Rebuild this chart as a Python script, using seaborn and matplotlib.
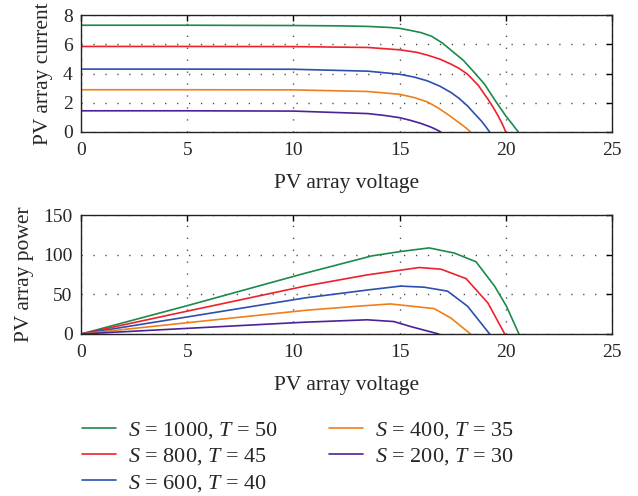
import numpy as np
import pandas as pd
import matplotlib
matplotlib.use("Agg")
import matplotlib.pyplot as plt
import seaborn as sns

labels = ["$S$ = 1000, $T$ = 50", "$S$ = 800, $T$ = 45", "$S$ = 600, $T$ = 40",
          "$S$ = 400, $T$ = 35", "$S$ = 200, $T$ = 30"]
colors = ["#1b8a4b", "#f0202a", "#2d4fae", "#ef7f1a", "#4b2297"]

# I-V curves (voltage, current)
iv_v_1000 = [0, 5, 10, 12, 13.5, 14.5, 15.0, 15.5, 16.0, 16.5, 17.0, 17.5, 18.0, 18.5, 19.0, 19.5, 20.0, 20.3, 20.59]
iv_i_1000 = [7.3, 7.3, 7.28, 7.26, 7.22, 7.15, 7.09, 6.95, 6.8, 6.55, 6.1, 5.5, 4.9, 4.1, 3.27, 2.15, 1.1, 0.55, 0.0]
iv_v_800 = [0, 5, 10, 13.5, 15.0, 15.8, 16.3, 16.9, 17.42, 17.8, 18.2, 18.7, 19.16, 19.4, 19.64, 19.85, 20.0]
iv_i_800 = [5.85, 5.85, 5.84, 5.78, 5.62, 5.45, 5.26, 4.98, 4.64, 4.35, 3.95, 3.2, 2.24, 1.7, 1.1, 0.5, 0.0]
iv_v_600 = [0, 5, 10, 13.5, 15.0, 15.7, 16.3, 16.9, 17.42, 17.8, 18.2, 18.5, 18.85, 19.05, 19.24]
iv_i_600 = [4.3, 4.3, 4.29, 4.16, 3.95, 3.75, 3.5, 3.13, 2.7, 2.3, 1.78, 1.3, 0.75, 0.38, 0.0]
iv_v_400 = [0, 5, 10, 13.5, 15.0, 15.7, 16.3, 16.8, 17.26, 17.6, 17.9, 18.15, 18.34]
iv_i_400 = [2.89, 2.89, 2.88, 2.77, 2.58, 2.35, 2.06, 1.66, 1.21, 0.85, 0.53, 0.25, 0.0]
iv_v_200 = [0, 5, 10, 13.5, 14.3, 15.0, 15.5, 16.0, 16.5, 16.75, 16.94]
iv_i_200 = [1.45, 1.45, 1.43, 1.26, 1.13, 0.98, 0.8, 0.59, 0.32, 0.15, 0.0]

# P-V curves (voltage, power)
pv_v_1000 = [0, 5, 10.55, 13.7, 15.05, 16.39, 17.58, 18.6, 19.48, 20.03, 20.62]
pv_p_1000 = [0, 35.7, 76.6, 98.5, 104.0, 108.5, 102.0, 91.0, 60.0, 35.0, 0.0]
pv_v_800 = [0, 5, 10.55, 13.47, 15.92, 16.95, 18.13, 19.16, 19.95]
pv_p_800 = [0, 28.8, 60.4, 74.5, 83.8, 81.7, 69.8, 39.0, 0.0]
pv_v_600 = [0, 5, 10.55, 13.5, 15.05, 16.16, 17.26, 18.2, 19.24]
pv_p_600 = [0, 21.5, 45.5, 55.5, 60.4, 59.0, 54.0, 35.0, 0.0]
pv_v_400 = [0, 5, 10.55, 13.0, 14.57, 16.63, 17.42, 18.34]
pv_p_400 = [0, 14.2, 29.8, 35.0, 37.9, 32.0, 20.0, 0.0]
pv_v_200 = [0, 5, 10.55, 13.47, 14.73, 15.52, 16.84]
pv_p_200 = [0, 7.1, 14.9, 17.9, 15.7, 9.4, 0.0]

x_ticks = [0, 5, 10, 15, 20, 25]
i_ticks = [0, 2, 4, 6, 8]
p_ticks = [0, 50, 100, 150]

iv = [(iv_v_1000, iv_i_1000), (iv_v_800, iv_i_800), (iv_v_600, iv_i_600),
      (iv_v_400, iv_i_400), (iv_v_200, iv_i_200)]
pv = [(pv_v_1000, pv_p_1000), (pv_v_800, pv_p_800), (pv_v_600, pv_p_600),
      (pv_v_400, pv_p_400), (pv_v_200, pv_p_200)]

df_iv = pd.concat([pd.DataFrame({"V": v, "Y": y, "case": lab})
                   for (v, y), lab in zip(iv, labels)], ignore_index=True)
df_pv = pd.concat([pd.DataFrame({"V": v, "Y": y, "case": lab})
                   for (v, y), lab in zip(pv, labels)], ignore_index=True)

sns.set_style("white")
plt.rcParams["font.family"] = ["Liberation Serif", "DejaVu Serif"]
plt.rcParams["mathtext.fontset"] = "custom"
plt.rcParams["mathtext.rm"] = "Liberation Serif"
plt.rcParams["mathtext.it"] = "Liberation Serif:italic"

fig = plt.figure(figsize=(6.38, 4.96), dpi=100)
W, H = 638, 496
ax1 = fig.add_axes([81 / W, (H - 132) / H, 531 / W, 117 / H])
ax2 = fig.add_axes([81 / W, (H - 334) / H, 531 / W, 119 / H])

pal = dict(zip(labels, colors))
sns.lineplot(data=df_iv, x="V", y="Y", hue="case", palette=pal, estimator=None,
             sort=False, ax=ax1, linewidth=1.2, legend=False)
sns.lineplot(data=df_pv, x="V", y="Y", hue="case", palette=pal, estimator=None,
             sort=False, ax=ax2, linewidth=1.2, legend=False)

for ax, yt, ylab in [(ax1, i_ticks, "PV array current"), (ax2, p_ticks, "PV array power")]:
    ax.set_xlim(0, 25)
    ax.set_ylim(yt[0], yt[-1])
    ax.set_xticks(x_ticks)
    ax.set_yticks(yt)
    ax.set_xlabel("PV array voltage", fontsize=15.5, labelpad=11)
    ax.set_ylabel(ylab, fontsize=15.5, labelpad=7)
    ax.tick_params(direction="in", top=True, right=True, length=4, width=1,
                   labelsize=14, color="black")
    ax.tick_params(axis="x", pad=7)
    ax.tick_params(axis="y", pad=6)
    ax.grid(True, linestyle=(0, (0.9, 7.7)), color="#444444", linewidth=1)
    for s in ax.spines.values():
        s.set_color("#222222")
        s.set_linewidth(1.0)

handles = [plt.Line2D([], [], color=c, linewidth=1.2) for c in colors]
fig.legend(handles, labels, loc="upper left", bbox_to_anchor=(82 / W, (H - 420) / H),
           ncol=2, frameon=False, fontsize=16, handlelength=1.53, handletextpad=0.54,
           columnspacing=2.3, labelspacing=0.24, borderaxespad=0, borderpad=0)

fig.savefig("out.png", dpi=100)
